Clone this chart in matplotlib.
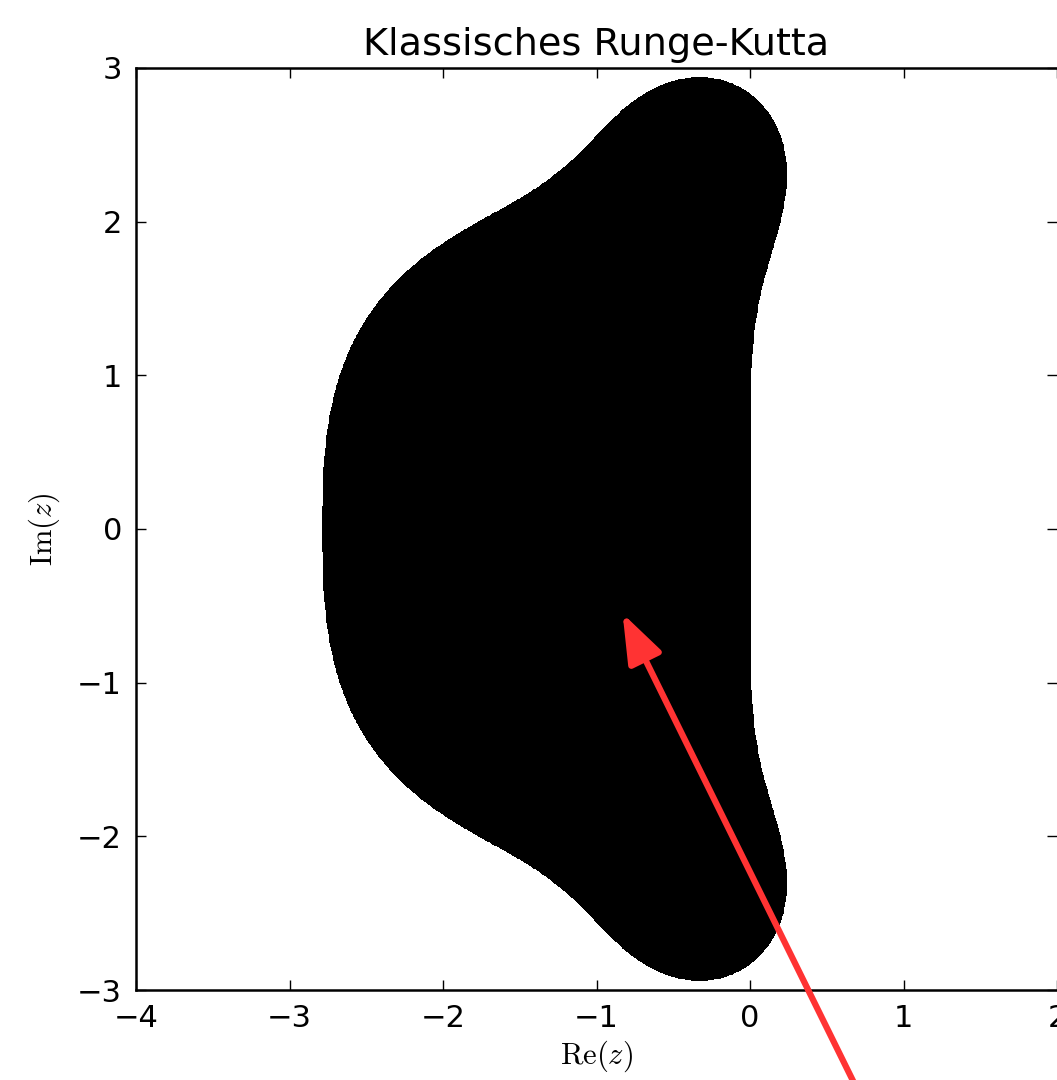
import numpy as np
import matplotlib
matplotlib.use("Agg")
import matplotlib.pyplot as plt

# Stabilitaetsfunktion des klassischen Runge-Kutta-Verfahrens:
# R(z) = 1 + z + z^2/2 + z^3/6 + z^4/24
rk4_coeffs = [1.0, 1.0, 1.0 / 2, 1.0 / 6, 1.0 / 24]

x_range = [-4, 2]
y_range = [-3, 3]
x_ticks = [-4, -3, -2, -1, 0, 1, 2]
y_ticks = [-3, -2, -1, 0, 1, 2, 3]

# Pfeil (Datenkoordinaten): Spitze und Anfang
arrow_tip = (-0.83, -0.55)
arrow_tail = (0.70, -3.65)

title = "Klassisches Runge-Kutta"
xlabel = r"$\mathrm{Re}(z)$"
ylabel = r"$\mathrm{Im}(z)$"

plt.rcParams["mathtext.fontset"] = "cm"

fig = plt.figure(figsize=(10.57, 10.8), dpi=100)
ax = fig.add_axes([136 / 1057, 1 - 990 / 1080, 921 / 1057, 922 / 1080])

xs = np.linspace(x_range[0], x_range[1], 1200)
ys = np.linspace(y_range[0], y_range[1], 1200)
X, Y = np.meshgrid(xs, ys)
Z = X + 1j * Y
R = np.zeros_like(Z)
for k, c in enumerate(rk4_coeffs):
    R = R + c * Z ** k
stable = (np.abs(R) <= 1.0).astype(float)

ax.contourf(X, Y, stable, levels=[0.5, 1.5], colors=["black"])

ax.set_xlim(x_range)
ax.set_ylim(y_range)
ax.set_xticks(x_ticks)
ax.set_yticks(y_ticks)
ax.set_xticklabels([f"{t}".replace("-", "\u2212") for t in x_ticks])
ax.set_yticklabels([f"{t}".replace("-", "\u2212") for t in y_ticks])
ax.tick_params(direction="in", length=7, width=1, labelsize=22, pad=10,
               top=True, right=True)
for sp in ax.spines.values():
    sp.set_linewidth(1.8)
ax.spines["right"].set_linewidth(0.6)

ax.set_title(title, fontsize=27.5, pad=9)
ax.set_xlabel(xlabel, fontsize=22, labelpad=4)
ax.set_ylabel(ylabel, fontsize=22, labelpad=11)

ax.annotate("", xy=arrow_tip, xytext=arrow_tail, annotation_clip=False,
            arrowprops=dict(arrowstyle="-|>,head_length=1.5,head_width=0.55",
                            mutation_scale=20, color="#ff3333", lw=4.5,
                            shrinkA=0, shrinkB=0))

fig.savefig("out.png", dpi=100)
